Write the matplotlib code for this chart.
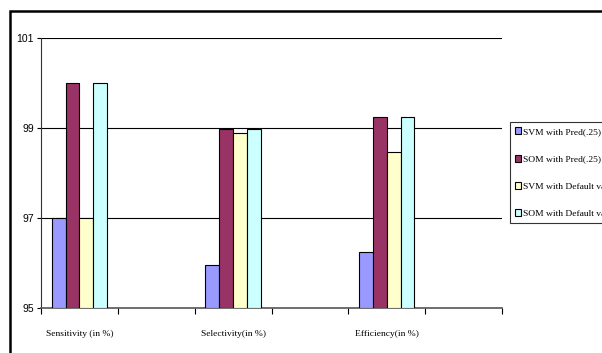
import matplotlib.pyplot as plt
import matplotlib.patches as mpatches
import numpy as np

# Categories (empty slots sit between the measured groups)
categories = ["Sensitivity (in %)", "", "Selectivity(in %)", "", "Efficiency(in %)", ""]
series_names = ["SVM with Pred(.25)", "SOM with Pred(.25)",
                "SVM with Default values", "SOM with Default values"]
svm_pred = [97.0, np.nan, 95.95, np.nan, 96.25, np.nan]
som_pred = [100.0, np.nan, 98.97, np.nan, 99.25, np.nan]
svm_default = [97.0, np.nan, 98.88, np.nan, 98.47, np.nan]
som_default = [100.0, np.nan, 98.97, np.nan, 99.25, np.nan]
y_ticks = [95, 97, 99, 101]

colors = ["#9999FF", "#993366", "#FFFFCC", "#CCFFFF"]
serif = "Liberation Serif"

fig = plt.figure(figsize=(6.02, 3.53), dpi=100)
ax = fig.add_axes([41 / 602, 45 / 353, 461 / 602, 270 / 353])

x = np.arange(len(categories))
w = 0.18
all_series = [svm_pred, som_pred, svm_default, som_default]
handles = []
for i, (vals, c) in enumerate(zip(all_series, colors)):
    vals = np.array(vals, dtype=float)
    mask = ~np.isnan(vals)
    b = ax.bar(x[mask] + (i - 1.5) * w, vals[mask] - 95, width=w, bottom=95,
               color=c, edgecolor="black", linewidth=0.8, zorder=3)
    handles.append(b)

ax.set_xlim(-0.5, len(categories) - 0.5)
ax.set_ylim(95, 101)

# Gridlines at each major value above the base
for yv in y_ticks[1:]:
    ax.axhline(yv, color="black", linewidth=0.8, zorder=1)

ax.set_yticks(y_ticks)
ax.set_yticklabels([str(v) for v in y_ticks], fontfamily="Liberation Sans", fontsize=7.5)
ax.tick_params(axis="y", direction="out", length=3, width=0.8, pad=2)

ax.set_xticks(x)
ax.set_xticklabels(categories, fontfamily=serif, fontsize=6.8)
ax.tick_params(axis="x", which="major", length=0, pad=16)
ax.set_xticks(np.arange(-0.5, len(categories)), minor=True)
ax.tick_params(axis="x", which="minor", direction="out", length=4, width=0.8)

for side in ["top", "right"]:
    ax.spines[side].set_visible(False)
ax.spines["left"].set_color("#333333")
ax.spines["bottom"].set_color("#555555")
ax.spines["bottom"].set_linewidth(1.2)

leg = fig.legend(handles, series_names, loc="upper left",
                 bbox_to_anchor=(510 / 602, 1 - 122 / 353),
                 prop={"family": serif, "size": 6.8}, frameon=True, fancybox=False,
                 edgecolor="black", handlelength=0.6, handleheight=0.8,
                 handletextpad=0.2, labelspacing=1.95, borderpad=0.55,
                 borderaxespad=0)
leg.get_frame().set_linewidth(0.8)

# Outer frame around the chart
frame = mpatches.Rectangle((10 / 602, -0.2), 1.2, 1.2 - 11 / 353,
                           transform=fig.transFigure, fill=False,
                           edgecolor="black", linewidth=1.8, clip_on=False)
fig.patches.append(frame)

fig.savefig("out.png", dpi=100)
